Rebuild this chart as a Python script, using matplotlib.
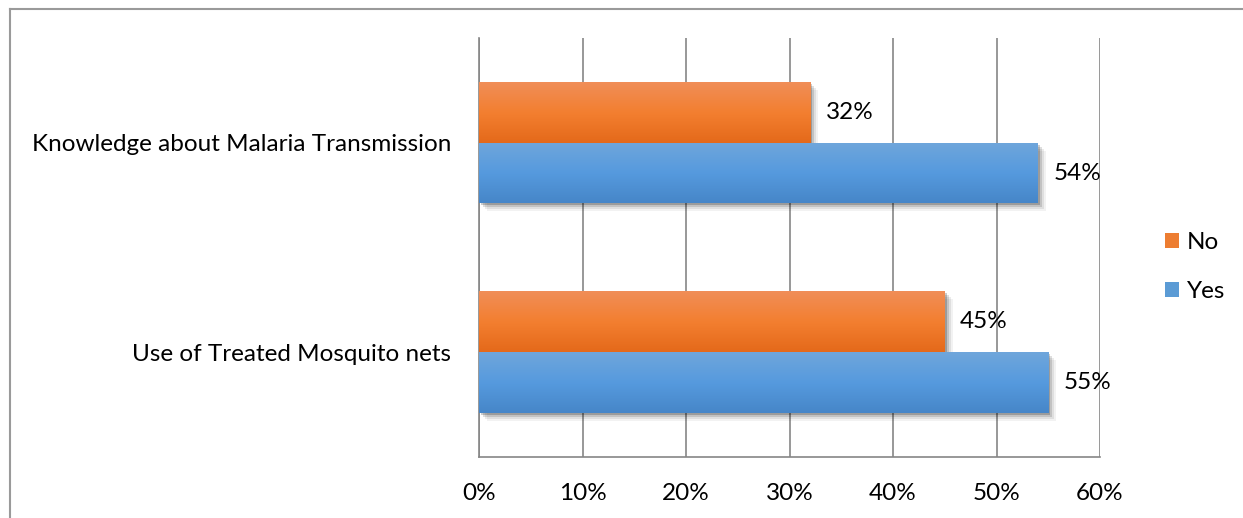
import matplotlib.pyplot as plt
import numpy as np
from matplotlib.colors import LinearSegmentedColormap
from matplotlib.lines import Line2D
from matplotlib.patches import Rectangle
from matplotlib.transforms import ScaledTranslation

# Data (bottom to top)
categories = ["Use of Treated Mosquito nets", "Knowledge about Malaria Transmission"]
yes_values = [55, 54]
no_values = [45, 32]
xticks = [0, 10, 20, 30, 40, 50, 60]

plt.rcParams['font.family'] = ['Lato', 'DejaVu Sans']
FS = 17.5

fig = plt.figure(figsize=(12.43, 5.18), dpi=100)
ax = fig.add_axes([0.3854, 0.1178, 0.4996, 0.8089])

y = np.arange(len(categories))
h = 0.29
bars_yes = ax.barh(y - h / 2, yes_values, height=h, color='#5b9bd5', label='Yes', zorder=3)
bars_no = ax.barh(y + h / 2, no_values, height=h, color='#ed7d31', label='No', zorder=3)

# gradient fills + soft shadows
grad_no = LinearSegmentedColormap.from_list('no', ['#e4691a', '#f37f30', '#f08e58'])
grad_yes = LinearSegmentedColormap.from_list('yes', ['#4686c8', '#569ade', '#6fa6db'])
grad = np.linspace(0, 1, 256).reshape(-1, 1)
for bars, cmap in [(bars_yes, grad_yes), (bars_no, grad_no)]:
    for p in bars:
        x0, y0 = p.get_x(), p.get_y()
        w, hh = p.get_width(), p.get_height()
        for d, a in [(8, 0.05), (6, 0.08), (4, 0.13), (2, 0.2)]:
            tr = ax.transData + ScaledTranslation(d / 100, -d / 100, fig.dpi_scale_trans)
            ax.add_patch(Rectangle((x0, y0), w, hh, transform=tr, facecolor='black',
                                   edgecolor='none', alpha=a, zorder=2))
        im = ax.imshow(grad, cmap=cmap, aspect='auto', origin='lower',
                       extent=[x0, x0 + w, y0, y0 + hh], zorder=3.5)
        im.set_clip_path(p)

ax.bar_label(bars_no, labels=[f"{v}%" for v in no_values], padding=11, fontsize=FS)
ax.bar_label(bars_yes, labels=[f"{v}%" for v in yes_values], padding=11, fontsize=FS)

ax.set_xlim(0, 60)
ax.set_ylim(-0.5, 1.5)
ax.set_xticks(xticks)
ax.set_xticklabels([f"{t}%" for t in xticks], fontsize=FS)
ax.set_yticks(y)
ax.set_yticklabels(categories, fontsize=FS)
ax.tick_params(axis='both', length=0)
ax.tick_params(axis='x', pad=19)
ax.tick_params(axis='y', pad=20)
ax.grid(axis='x', color='#868686', linewidth=1.2, zorder=0)
ax.set_axisbelow(True)
for s in ['top', 'right']:
    ax.spines[s].set_visible(False)
for s in ['left', 'bottom']:
    ax.spines[s].set_color('#868686')
    ax.spines[s].set_linewidth(1.2)

handles = [bars_no, bars_yes]
leg = fig.legend(handles, ['No', 'Yes'], loc='center left',
                 bbox_to_anchor=(1143 / 1243, 1 - 267 / 518), frameon=False,
                 fontsize=FS, handlelength=0.6, handleheight=0.6,
                 handletextpad=0.3, labelspacing=1.15)
for hdl in leg.legend_handles:
    hdl.set_edgecolor('none')

# outer chart border (partially visible)
fig.add_artist(Line2D([10 / 1243, 10 / 1243], [0, 1 - 9 / 518], color='#9a9a9a', lw=1.5))
fig.add_artist(Line2D([10 / 1243, 1], [1 - 9 / 518, 1 - 9 / 518], color='#9a9a9a', lw=1.5))

fig.savefig('out.png', dpi=100)
